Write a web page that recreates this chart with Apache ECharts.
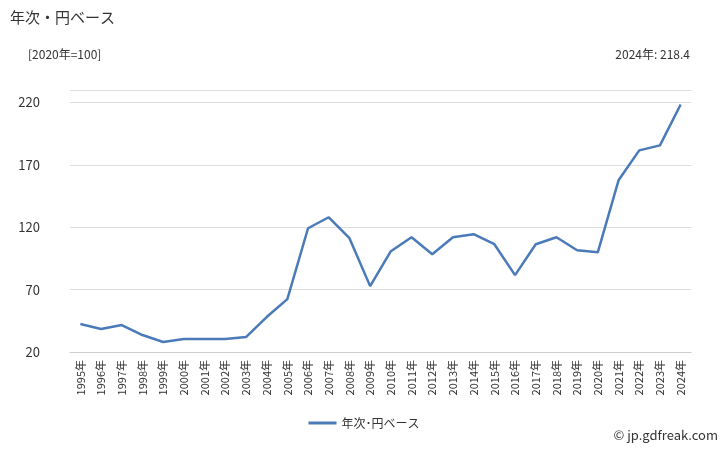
<!DOCTYPE html>
<html><head><meta charset="utf-8">
<script src="https://cdn.jsdelivr.net/npm/echarts@6/dist/echarts.min.js"></script>
<style>body{margin:0}#c{width:728px;height:450px}</style></head>
<body><div id="c"></div>
<script>
const years=['1995年','1996年','1997年','1998年','1999年','2000年','2001年','2002年','2003年','2004年','2005年','2006年','2007年','2008年','2009年','2010年','2011年','2012年','2013年','2014年','2015年','2016年','2017年','2018年','2019年','2020年','2021年','2022年','2023年','2024年'];
const values=[42.4,38.4,41.6,33.6,28,30.4,30.4,30.4,32,48,62.4,119.2,128,111.2,72.8,100.8,112,98.4,112,114.4,106.4,81.6,106.4,112,101.6,100,157.6,181.6,185.6,218.4];
const yTicks=[20,70,120,170,220];
const seriesName='年次･円ベース';
const chart=echarts.init(document.getElementById('c'));
const f='"Noto Sans CJK JP","Noto Sans",sans-serif';
chart.setOption({
 animation:false,
 textStyle:{fontFamily:f},
 graphic:[
  {type:'text',left:10,top:10,style:{text:'年次・円ベース',font:'15px '+f,fill:'#333'}},
  {type:'text',left:28,top:48,style:{text:'[2020年=100]',font:'12px '+f,fill:'#333'}},
  {type:'text',right:38,top:48,style:{text:'2024年: 218.4',font:'12px '+f,fill:'#333'}},
  {type:'text',right:10,bottom:8,style:{text:'© jp.gdfreak.com',font:'13px '+f,fill:'#333'}}
 ],
 grid:{left:70,right:37,top:90,bottom:98},
 legend:{bottom:16,left:'center',icon:'rect',itemWidth:28,itemHeight:3,textStyle:{fontSize:12,color:'#333'},data:[seriesName]},
 xAxis:{type:'category',data:years,axisTick:{show:false},axisLine:{lineStyle:{color:'#ccc'}},
  axisLabel:{rotate:90,fontSize:11,color:'#333',interval:0}},
 yAxis:{type:'value',min:20,max:230,interval:50,
  axisLabel:{fontSize:13,color:'#333',margin:30,formatter:v=>yTicks.includes(v)?String(v):''},
  axisLine:{show:false},axisTick:{show:false},splitLine:{lineStyle:{color:'#ddd'}}},
 series:[{name:seriesName,type:'line',data:values,symbol:'none',lineStyle:{color:'#4a7ab8',width:2.5},itemStyle:{color:'#4a7ab8'}}]
});
</script></body></html>
